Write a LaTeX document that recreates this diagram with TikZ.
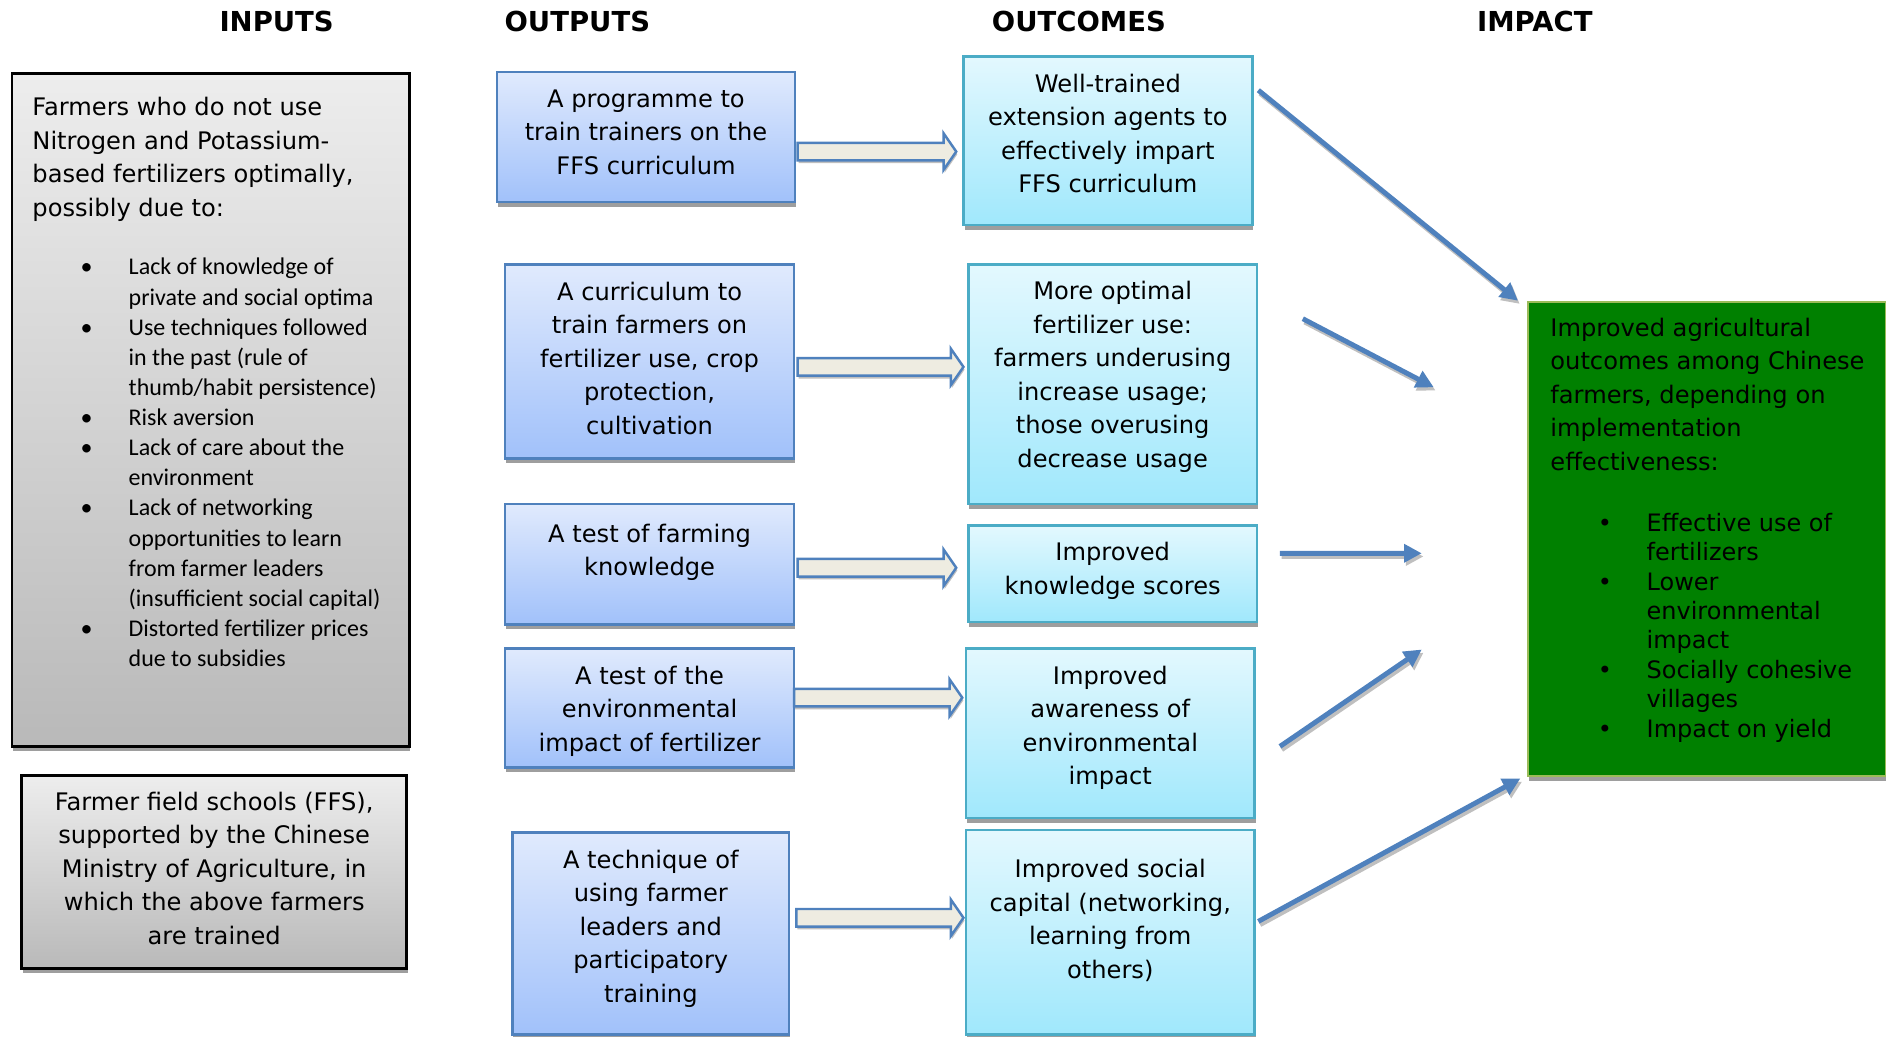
\documentclass[tikz,border=0pt]{standalone}
\usepackage{fontspec}
\setmainfont{DejaVu Sans}
\newfontfamily\listfont{Carlito}
\usepackage{tikz}
\usetikzlibrary{calc}
\usetikzlibrary{shadows}
\usetikzlibrary{arrows.meta}

\definecolor{grayfrom}{HTML}{EDEDED}
\definecolor{grayto}{HTML}{B9B9B9}
\definecolor{outfrom}{HTML}{E0EAFD}
\definecolor{outto}{HTML}{A1C1FA}
\definecolor{blueline}{HTML}{4F81BD}
\definecolor{resfrom}{HTML}{E3F8FE}
\definecolor{resto}{HTML}{A0E8FC}
\definecolor{resline}{HTML}{4BACC6}
\definecolor{impfill}{HTML}{008000}
\definecolor{impline}{HTML}{9BBB59}
\definecolor{arrfill}{HTML}{EEECE1}

\begin{document}
\begin{tikzpicture}[x=0.012cm,y=-0.012cm,
  every node/.style={inner sep=0pt,outer sep=0pt},
  hdr/.style={font=\fontsize{7.8}{9.5}\selectfont\bfseries},
  body/.style={font=\fontsize{6.85}{9.5}\selectfont,align=center,anchor=north},
  listtext/.style={anchor=north west},
  boxshadow/.style={drop shadow={shadow xshift=0.3pt,shadow yshift=-1.4pt,fill=black!38,opacity=1}},
  inbox/.style={anchor=north west,draw=black,line width=0.8pt,top color=grayfrom,bottom color=grayto,boxshadow},
  outbox/.style={anchor=north west,draw=blueline,line width=0.7pt,top color=outfrom,bottom color=outto,boxshadow},
  resbox/.style={anchor=north west,draw=resline,line width=0.7pt,top color=resfrom,bottom color=resto,boxshadow},
  impbox/.style={anchor=north west,draw=impline,line width=0.6pt,fill=impfill,boxshadow},
  flow/.style={draw=blueline,line width=0.7pt,fill=arrfill,
    drop shadow={shadow xshift=0.3pt,shadow yshift=-0.8pt,fill=black!25,opacity=1},
    to path={let \p1=(\tikztostart),\p2=(\tikztotarget) in
      (\x1,\y1+2.5pt) -- (\x2-3.6pt,\y1+2.5pt) -- (\x2-3.6pt,\y1+5.2pt) -- (\x2,\y1)
      -- (\x2-3.6pt,\y1-5.2pt) -- (\x2-3.6pt,\y1-2.5pt) -- (\x1,\y1-2.5pt) -- cycle}},
  effect/.style={draw=blueline,line width=1.4pt,-{Triangle[length=5pt,width=5pt]},
    preaction={draw=black!25,line width=1.4pt,-{Triangle[length=5pt,width=5pt]},
      transform canvas={shift={(0.5pt,-0.9pt)}}}}
]
\useasboundingbox (0,0) rectangle (1568,862);

\node[hdr] (hin) at (230,18) {INPUTS};
\node[hdr] (hout) at (480,18) {OUTPUTS};
\node[hdr] (hres) at (897,18) {OUTCOMES};
\node[hdr] (himp) at (1276,18) {IMPACT};

\node[inbox,minimum width=3.96cm,minimum height=6.708cm] (in1) at (10,61) {};
\node[body,anchor=north west,align=left] (in1t) at ($(in1.north west)+(17,20)$) {Farmers who do not use\\Nitrogen and Potassium-\\based fertilizers optimally,\\possibly due to:};
\node[listtext,font=\listfont\fontsize{6.8}{8.55}\selectfont] (in1l) at ($(in1.north west)+(57,150)$) {\begin{tabular}{@{}p{0.48cm}@{}l@{}}
\textbullet & Lack of knowledge of\\
 & private and social optima\\
\textbullet & Use techniques followed\\
 & in the past (rule of\\
 & thumb/habit persistence)\\
\textbullet & Risk aversion\\
\textbullet & Lack of care about the\\
 & environment\\
\textbullet & Lack of networking\\
 & opportunities to learn\\
 & from farmer leaders\\
 & (insufficient social capital)\\
\textbullet & Distorted fertilizer prices\\
 & due to subsidies
\end{tabular}};

\node[inbox,minimum width=3.84cm,minimum height=1.92cm] (in2) at (18,645) {};
\node[body] (in2t) at ($(in2.north)+(0,13.5)$) {Farmer field schools (FFS),\\supported by the Chinese\\Ministry of Agriculture, in\\which the above farmers\\are trained};

\node[outbox,minimum width=2.976cm,minimum height=1.296cm] (o1) at (413,60) {};
\node[body] (o1t) at ($(o1.north)+(0,14.5)$) {A programme to\\train trainers on the\\FFS curriculum};
\node[outbox,minimum width=2.88cm,minimum height=1.932cm] (o2) at (420,220) {};
\node[body] (o2t) at ($(o2.north)+(0,14.5)$) {A curriculum to\\train farmers on\\fertilizer use, crop\\protection,\\cultivation};
\node[outbox,minimum width=2.88cm,minimum height=1.2cm] (o3) at (420,419) {};
\node[body] (o3t) at ($(o3.north)+(0,16.5)$) {A test of farming\\knowledge};
\node[outbox,minimum width=2.88cm,minimum height=1.188cm] (o4) at (420,539) {};
\node[body] (o4t) at ($(o4.north)+(0,14.5)$) {A test of the\\environmental\\impact of fertilizer};
\node[outbox,minimum width=2.76cm,minimum height=2.016cm] (o5) at (426,692) {};
\node[body] (o5t) at ($(o5.north)+(0,14.5)$) {A technique of\\using farmer\\leaders and\\participatory\\training};

\node[resbox,minimum width=2.88cm,minimum height=1.68cm] (c1) at (801,47) {};
\node[body] (c1t) at ($(c1.north)+(0,14.5)$) {Well-trained\\extension agents to\\effectively impart\\FFS curriculum};
\node[resbox,minimum width=2.88cm,minimum height=2.388cm] (c2) at (805,220) {};
\node[body] (c2t) at ($(c2.north)+(0,14)$) {More optimal\\fertilizer use:\\farmers underusing\\increase usage;\\those overusing\\decrease usage};
\node[resbox,minimum width=2.88cm,minimum height=0.96cm] (c3) at (805,437) {};
\node[body] (c3t) at ($(c3.north)+(0,14)$) {Improved\\knowledge scores};
\node[resbox,minimum width=2.88cm,minimum height=1.692cm] (c4) at (803,539) {};
\node[body] (c4t) at ($(c4.north)+(0,14.5)$) {Improved\\awareness of\\environmental\\impact};
\node[resbox,minimum width=2.88cm,minimum height=2.04cm] (c5) at (803,690) {};
\node[body] (c5t) at ($(c5.north)+(0,24.5)$) {Improved social\\capital (networking,\\learning from\\others)};

\node[impbox,minimum width=3.576cm,minimum height=4.728cm] (g) at (1270,251) {};
\node[body,anchor=north west,align=left] (gt) at ($(g.north west)+(19,13.5)$) {Improved agricultural\\outcomes among Chinese\\farmers, depending on\\implementation\\effectiveness:};
\node[listtext,font=\fontsize{6.8}{8.35}\selectfont] (gl) at ($(g.north west)+(58.5,173.5)$) {\begin{tabular}{@{}p{0.486cm}@{}l@{}}
\textbullet & Effective use of\\
 & fertilizers\\
\textbullet & Lower\\
 & environmental\\
 & impact\\
\textbullet & Socially cohesive\\
 & villages\\
\textbullet & Impact on yield
\end{tabular}};

\draw[flow] ($(o1.east)+(2,12)$) to ($(c1.west)+(-6,9)$);
\draw[flow] ($(o2.east)+(3,4.5)$) to ($(c2.west)+(-4,-14.5)$);
\draw[flow] ($(o3.east)+(3,3)$) to ($(c3.west)+(-10,-5)$);
\draw[flow] ($(o4.east)+(0,-8.5)$) to ($(c4.west)+(-3,-29.5)$);
\draw[flow] ($(o5.east)+(6,-13)$) to ($(c5.west)+(-2,-12)$);

\draw[effect] ($(c1.north east)+(5,28)$) -- ($(g.north west)+(-8,-1)$);
\draw[effect] ($(c2.north east)+(38,45)$) -- ($(g.north west)+(-78,71)$);
\draw[effect] ($(c3.east)+(19,-17)$) -- ($(g.north west)+(-88,209)$);
\draw[effect] ($(c4.east)+(21,11)$) -- ($(g.north west)+(-88,289)$);
\draw[effect] ($(c5.east)+(3,-9)$) -- ($(g.south west)+(-6,2)$);
\end{tikzpicture}
\end{document}
